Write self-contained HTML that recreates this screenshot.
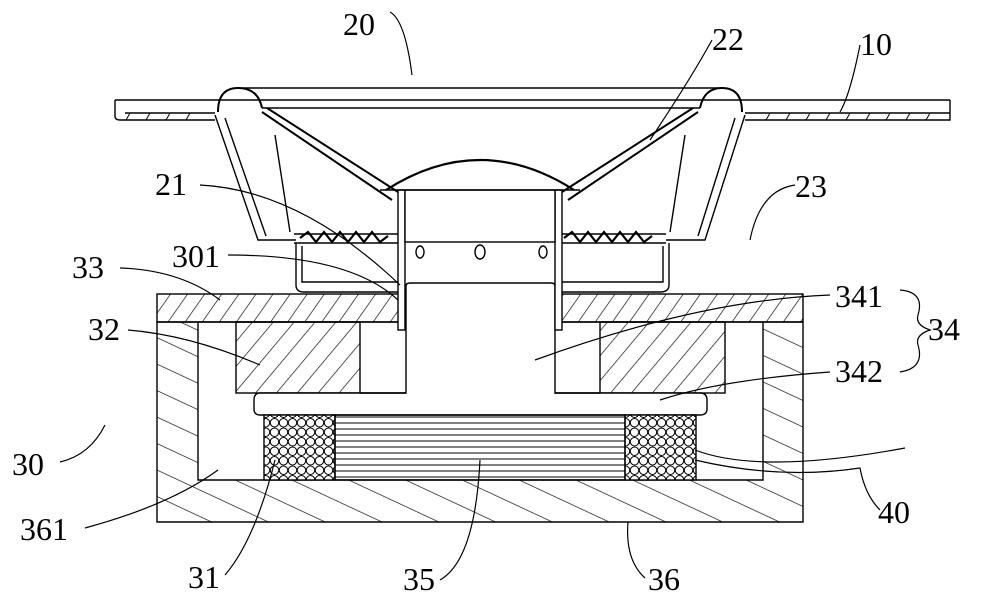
<!DOCTYPE html>
<html><head><meta charset="utf-8"><style>
html,body{margin:0;padding:0;background:#fff;}
svg{display:block}
text{font-family:"Liberation Serif",serif;font-size:32px;fill:#000}
</style></head><body>
<svg width="1000" height="602" viewBox="0 0 1000 602" xmlns="http://www.w3.org/2000/svg">
<defs>
<pattern id="h1" width="14" height="14" patternUnits="userSpaceOnUse" patternTransform="rotate(35)"><line x1="0" y1="0" x2="0" y2="14" stroke="#000" stroke-width="1.3"/></pattern>
<pattern id="h2" width="24" height="24" patternUnits="userSpaceOnUse" patternTransform="rotate(-65)"><line x1="0" y1="0" x2="0" y2="24" stroke="#000" stroke-width="1.3"/></pattern>
<pattern id="h3" width="16" height="16" patternUnits="userSpaceOnUse" patternTransform="rotate(40)"><line x1="0" y1="0" x2="0" y2="16" stroke="#000" stroke-width="1.3"/></pattern>
<pattern id="coil" width="9" height="9.5" patternUnits="userSpaceOnUse"><circle cx="4.5" cy="4.75" r="4.2" fill="#fff" stroke="#000" stroke-width="1"/></pattern>
<pattern id="lam" width="10" height="6" patternUnits="userSpaceOnUse"><line x1="0" y1="3" x2="10" y2="3" stroke="#000" stroke-width="1"/></pattern>
</defs>
<g fill="none" stroke="#000" stroke-width="1.4">
<path d="M157 322 H803 V522 H157 Z M198 322 V480 H763 V322 Z" fill="url(#h2)" fill-rule="evenodd"/>
<rect x="157" y="294" width="646" height="28" fill="url(#h1)"/>
<rect x="403" y="280" width="156" height="42" fill="#fff" stroke="none"/>
<rect x="236" y="322" width="124" height="71" fill="url(#h3)"/>
<rect x="600" y="322" width="125" height="71" fill="url(#h3)"/>
<path d="M406 286 Q406 283 410 283 H551 Q555 283 555 286 V393 H700 Q707 393 707 400 V409 Q707 415 700 415 H260 Q254 415 254 409 V400 Q254 393 260 393 H406 Z" fill="#fff"/>
<line x1="360" y1="393" x2="406" y2="393"/>
<line x1="555" y1="393" x2="600" y2="393"/>
<rect x="264" y="415" width="71" height="65" fill="url(#coil)"/>
<rect x="625" y="415" width="71" height="65" fill="url(#coil)"/>
<rect x="335" y="415" width="290" height="65" fill="url(#lam)"/>
<rect x="398" y="190" width="7" height="140" fill="#fff"/>
<rect x="555" y="190" width="7" height="140" fill="#fff"/>
<rect x="405" y="190" width="150" height="52" fill="#fff"/>
<ellipse cx="420" cy="252" rx="4" ry="6"/><ellipse cx="480" cy="252" rx="5" ry="7"/><ellipse cx="543" cy="252" rx="4" ry="6"/>
<path d="M296 243 V285 Q296 292 304 292 H398 M562 292 H660 Q669 292 669 285 V243"/>
<path d="M302 246 V282 H398 M562 282 H663 V246"/>
<path d="M294 234 H398 M562 234 H666 M294 243 H398 M562 243 H666"/>
<path d="M300 238 l8 -6 l8 10 l8 -10 l8 10 l8 -10 l8 10 l8 -10 l8 10 l8 -10 l8 10 l8 -6" stroke-width="2.2"/>
<path d="M564 238 l8 -6 l8 10 l8 -10 l8 10 l8 -10 l8 10 l8 -10 l8 10 l8 -10 l8 10 l8 -6" stroke-width="2.2"/>
<path d="M215 115 L258 240 H296 M745 115 L705 240 H666"/>
<path d="M225 118 L266 236 M735 118 L698 236"/>
<path d="M275 135 L290 232 M685 135 L670 232"/>
<path d="M262 112 L392 200 M267 108 L398 192 M698 112 L568 200 M693 108 L562 192" stroke-width="2"/>
<path d="M386 190 Q480 130 574 190" stroke-width="2.2"/>
<line x1="380" y1="190" x2="580" y2="190"/>
<path d="M218 112 Q218 88 238 88 Q258 88 262 108 M700 108 Q704 88 722 88 Q742 88 742 112" stroke-width="2"/>
<path d="M238 88 H722 M262 108 H700"/>
<path d="M115 100 H950 M115 100 V116 Q115 120 120 120 H215 M745 120 H950 V100 M125 113 H215 M745 113 H950"/>
<path d="M130 113 l-4 7 M150 113 l-4 7 M170 113 l-4 7 M190 113 l-4 7 M770 113 l-4 7 M790 113 l-4 7 M810 113 l-4 7 M830 113 l-4 7 M850 113 l-4 7 M870 113 l-4 7 M890 113 l-4 7 M910 113 l-4 7 M930 113 l-4 7" stroke-width="1"/>
<g stroke-width="1.2">
<path d="M390 12 Q405 20 412 75"/>
<path d="M712 40 Q690 80 650 140"/>
<path d="M860 45 Q850 95 840 112"/>
<path d="M200 185 Q300 190 400 285"/>
<path d="M795 185 Q760 190 750 240"/>
<path d="M228 255 Q350 255 398 300"/>
<path d="M120 268 Q180 270 220 300"/>
<path d="M128 330 Q190 335 260 365"/>
<path d="M830 295 Q700 300 535 360"/>
<path d="M830 372 Q720 380 660 400"/>
<path d="M900 290 Q925 292 918 315 Q915 325 930 330 Q915 335 918 345 Q925 368 900 372"/>
<path d="M60 462 Q90 455 105 425"/>
<path d="M85 528 Q170 505 218 470"/>
<path d="M225 575 Q255 540 275 460"/>
<path d="M440 580 Q475 560 480 460"/>
<path d="M645 578 Q625 560 628 522"/>
<path d="M695 450 Q760 475 905 448"/>
<path d="M695 460 Q780 480 860 468 Q865 495 880 510"/>
</g>
</g>
<g>
<text x="343" y="35">20</text>
<text x="712" y="50">22</text>
<text x="860" y="55">10</text>
<text x="155" y="195">21</text>
<text x="795" y="197">23</text>
<text x="172" y="267">301</text>
<text x="72" y="278">33</text>
<text x="835" y="307">341</text>
<text x="928" y="340">34</text>
<text x="88" y="340">32</text>
<text x="835" y="382">342</text>
<text x="12" y="475">30</text>
<text x="20" y="540">361</text>
<text x="188" y="588">31</text>
<text x="403" y="590">35</text>
<text x="648" y="590">36</text>
<text x="878" y="523">40</text>
</g>
</svg>
</body></html>
